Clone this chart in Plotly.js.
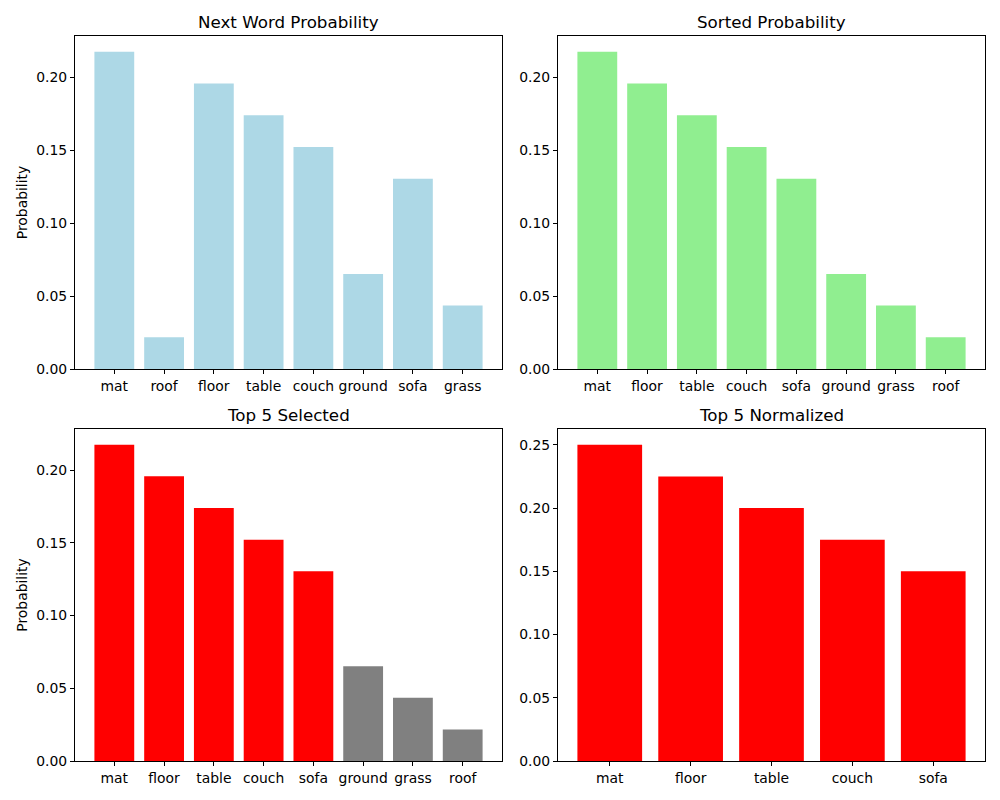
<!DOCTYPE html>
<html>
<head>
<meta charset="utf-8">
<script src="https://cdn.plot.ly/plotly-3.0.1.min.js"></script>
<style>html,body{margin:0;padding:0;background:#fff;}#chart{width:1000px;height:800px;}</style>
</head>
<body>
<div id="chart"></div>
<script>
// Data
const words = ["mat", "roof", "floor", "table", "couch", "ground", "sofa", "grass"];
const probs = [0.2174, 0.0217, 0.1957, 0.1739, 0.1522, 0.0652, 0.1304, 0.0435];

const sortedWords = ["mat", "floor", "table", "couch", "sofa", "ground", "grass", "roof"];
const sortedProbs = [0.2174, 0.1957, 0.1739, 0.1522, 0.1304, 0.0652, 0.0435, 0.0217];

const topK = 5;
const selectedColors = ["red", "red", "red", "red", "red", "gray", "gray", "gray"];

const topWords = ["mat", "floor", "table", "couch", "sofa"];
const topNormalized = [0.25, 0.225, 0.2, 0.175, 0.15];

const titles = ["Next Word Probability", "Sorted Probability", "Top 5 Selected", "Top 5 Normalized"];

const FONT = "DejaVu Sans, sans-serif";
const TICK = 13.9;
const TITLE = 16.7;

function bar(x, y, color, xa, ya) {
  return {type: "bar", x: x, y: y, marker: {color: color, line: {width: 0}},
          width: x.map(() => 0.8), xaxis: xa, yaxis: ya, hoverinfo: "x+y", showlegend: false};
}

const data = [
  bar(words, probs, "#ADD8E6", "x", "y"),
  bar(sortedWords, sortedProbs, "#90EE90", "x2", "y2"),
  bar(sortedWords, sortedProbs, selectedColors, "x3", "y3"),
  bar(topWords, topNormalized, "red", "x4", "y4")
];

const xd = [[0.075, 0.502], [0.558, 0.985]];
const yd = [[0.53875, 0.955], [0.04875, 0.46375]];

function xaxis(dom, n) {
  const m = 0.05 * (n - 1 + 0.8);
  return {domain: dom, type: "category", range: [-0.4 - m, n - 1 + 0.4 + m],
          showgrid: false, zeroline: false, showline: true, linecolor: "black", linewidth: 1,
          mirror: true, ticks: "outside", ticklen: 4, tickwidth: 1, tickcolor: "black",
          tickfont: {family: FONT, size: TICK, color: "black"}, fixedrange: true};
}
function yaxis(dom, maxv, anchor, title) {
  const a = {domain: dom, anchor: anchor, range: [0, maxv * 1.05], dtick: 0.05, tick0: 0,
          tickformat: ".2f", showgrid: false, zeroline: false, showline: true, linecolor: "black",
          linewidth: 1, mirror: true, ticks: "outside", ticklen: 4, tickwidth: 1, tickcolor: "black",
          tickfont: {family: FONT, size: TICK, color: "black"}, fixedrange: true};
  if (title) a.title = {text: title, font: {family: FONT, size: TICK, color: "black"}, standoff: 5};
  return a;
}

const maxP = Math.max(...probs);
const maxN = Math.max(...topNormalized);

const layout = {
  width: 1000, height: 800, margin: {l: 0, r: 0, t: 0, b: 0},
  paper_bgcolor: "white", plot_bgcolor: "white",
  font: {family: FONT, color: "black"},
  xaxis: Object.assign(xaxis(xd[0], words.length), {anchor: "y"}),
  yaxis: yaxis(yd[0], maxP, "x", "Probability"),
  xaxis2: Object.assign(xaxis(xd[1], sortedWords.length), {anchor: "y2"}),
  yaxis2: yaxis(yd[0], maxP, "x2", null),
  xaxis3: Object.assign(xaxis(xd[0], sortedWords.length), {anchor: "y3"}),
  yaxis3: yaxis(yd[1], maxP, "x3", "Probability"),
  xaxis4: Object.assign(xaxis(xd[1], topWords.length), {anchor: "y4"}),
  yaxis4: yaxis(yd[1], maxN, "x4", null),
  annotations: [
    [xd[0], yd[0]], [xd[1], yd[0]], [xd[0], yd[1]], [xd[1], yd[1]]
  ].map((d, i) => ({
    text: titles[i], xref: "paper", yref: "paper",
    x: (d[0][0] + d[0][1]) / 2, y: d[1][1], xanchor: "center", yanchor: "bottom",
    yshift: 2, showarrow: false, font: {family: FONT, size: TITLE, color: "black"}
  }))
};

Plotly.newPlot("chart", data, layout, {displayModeBar: false, staticPlot: true});
</script>
</body>
</html>
